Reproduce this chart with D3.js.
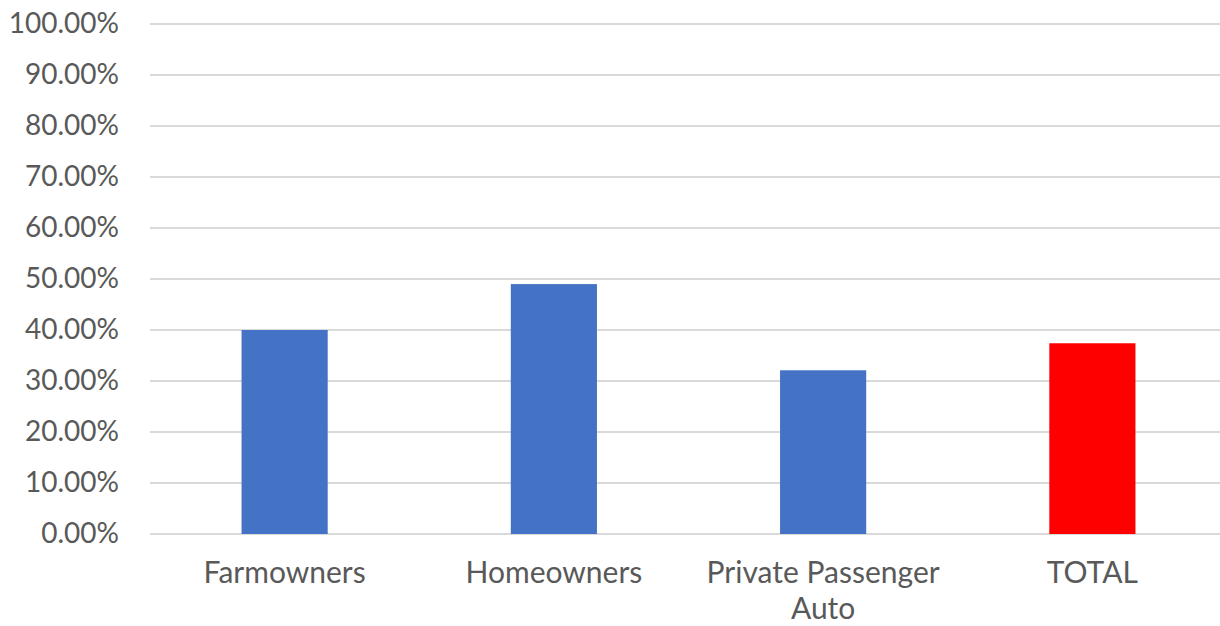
<!DOCTYPE html>
<html>
<head>
<meta charset="utf-8">
<script src="https://cdn.jsdelivr.net/npm/d3@7"></script>
<style>
  html, body { margin: 0; padding: 0; background: #fff; }
  svg { display: block; }
  text { font-family: Lato, "Open Sans", sans-serif; fill: #595959; }
</style>
</head>
<body>
<svg id="chart" width="1220" height="626"></svg>
<script>
// Share by line of business
const categories = ["Farmowners", "Homeowners", "Private Passenger Auto", "TOTAL"];
const values = [0.400, 0.490, 0.321, 0.374];
const barColors = ["#4472C4", "#4472C4", "#4472C4", "#FF0000"];
const yTicks = [0, 0.1, 0.2, 0.3, 0.4, 0.5, 0.6, 0.7, 0.8, 0.9, 1.0];

const FONT = "Lato, 'Open Sans', sans-serif";
const Y_FONT_SIZE = 28;
const X_FONT_SIZE = 30;

const svg = d3.select("#chart");
const margin = { left: 150, right: -7, top: 24, bottom: 92 };
const W = 1220, H = 626;

const x = d3.scaleBand()
  .domain(categories)
  .range([margin.left, W - margin.right])
  .paddingInner(0.68)
  .paddingOuter(0.34);

const y = d3.scaleLinear()
  .domain([0, 1])
  .range([H - margin.bottom, margin.top]);

// gridlines
svg.append("g")
  .selectAll("line")
  .data(yTicks)
  .join("line")
  .attr("x1", margin.left)
  .attr("x2", W)
  .attr("y1", d => y(d))
  .attr("y2", d => y(d))
  .attr("stroke", "#d9d9d9")
  .attr("stroke-width", 2);

// y axis labels
const yAxis = d3.axisLeft(y)
  .tickValues(yTicks)
  .tickFormat(d3.format(".2%"))
  .tickSize(0)
  .tickPadding(0);
const gy = svg.append("g")
  .attr("transform", `translate(${margin.left - 31},0)`)
  .call(yAxis);
gy.select(".domain").remove();
gy.selectAll("text")
  .attr("font-size", Y_FONT_SIZE)
  .attr("fill", "#595959")
  .style("font-family", FONT);

// bars
svg.append("g")
  .selectAll("rect")
  .data(categories)
  .join("rect")
  .attr("x", d => x(d))
  .attr("width", x.bandwidth())
  .attr("y", (d, i) => y(values[i]))
  .attr("height", (d, i) => y(0) - y(values[i]))
  .attr("fill", (d, i) => barColors[i]);

// x axis labels (wrapped to the category slot)
const xAxis = d3.axisBottom(x).tickSize(0).tickPadding(0);
const gx = svg.append("g")
  .attr("transform", `translate(0,${y(0)})`)
  .call(xAxis);
gx.select(".domain").remove();
gx.selectAll("text")
  .attr("font-size", X_FONT_SIZE)
  .attr("fill", "#595959")
  .style("font-family", FONT)
  .each(function(d) {
    const t = d3.select(this);
    t.text(null).attr("dy", null).attr("y", 0);
    const words = d.split(" ");
    const maxW = x.step() - 10;
    let lines = [], cur = [];
    const probe = svg.append("text").attr("font-size", X_FONT_SIZE).style("font-family", FONT);
    words.forEach(w => {
      const test = cur.concat(w).join(" ");
      probe.text(test);
      if (probe.node().getComputedTextLength() > maxW && cur.length) {
        lines.push(cur.join(" "));
        cur = [w];
      } else cur.push(w);
    });
    lines.push(cur.join(" "));
    probe.remove();
    lines.forEach((ln, i) => {
      t.append("tspan")
        .attr("x", 0)
        .attr("y", 49 + i * 36)
        .text(ln);
    });
  });
</script>
</body>
</html>
